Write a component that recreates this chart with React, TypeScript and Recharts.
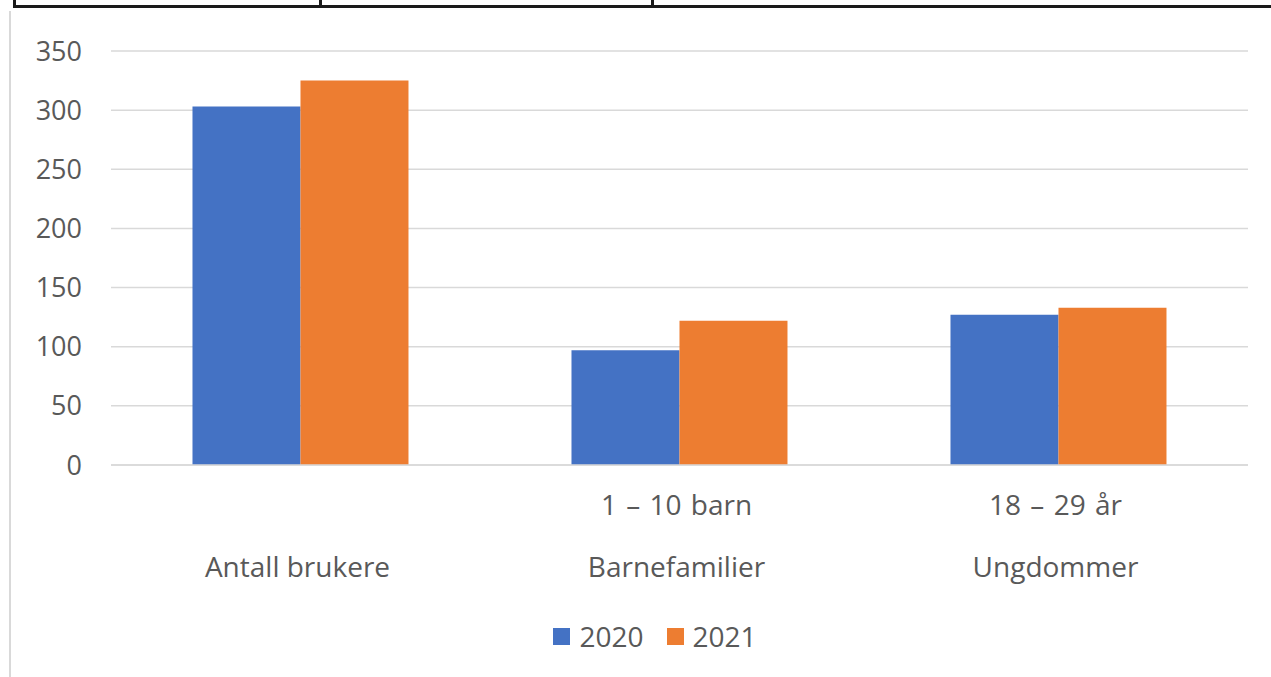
import React from "react";
import { BarChart, Bar, XAxis, YAxis, CartesianGrid, Legend } from "recharts";

const categories = ["Antall brukere", "Barnefamilier", "Ungdommer"];
const subLabels = ["", "1 – 10 barn", "18 – 29 år"];
const values2020 = [303, 97, 127];
const values2021 = [325, 122, 133];
const yTicks = [0, 50, 100, 150, 200, 250, 300, 350];
const seriesNames = ["2020", "2021"];
const seriesColors = ["#4472C4", "#ED7D31"];

const data = categories.map((c, i) => ({
  name: c,
  sub: subLabels[i],
  v2020: values2020[i],
  v2021: values2021[i],
}));

const FONT = "'Open Sans', 'Noto Sans', sans-serif";
const TEXT = "#595959";

const XTick = (props: any) => {
  const { x, y, payload, index } = props;
  const sub = subLabels[index] ?? "";
  return (
    <g>
      {sub ? (
        <text x={x - 3} y={y + 42} textAnchor="middle" fill={TEXT} fontSize={28} fontFamily={FONT} style={{ wordSpacing: 2 }}>
          {sub}
        </text>
      ) : null}
      <text x={x - 3} y={y + 104} textAnchor="middle" fill={TEXT} fontSize={28} fontFamily={FONT}>
        {payload.value}
      </text>
    </g>
  );
};

const LegendContent = () => (
  <div
    style={{
      height: 40,
      display: "flex",
      justifyContent: "center",
      alignItems: "center",
      paddingLeft: 62,
      fontFamily: FONT,
      fontSize: 28,
      color: TEXT,
    }}
  >
    {seriesNames.map((n, i) => (
      <div key={n} style={{ display: "flex", alignItems: "center", marginRight: i === 0 ? 23 : 0 }}>
        <span style={{ width: 17, height: 17, background: seriesColors[i], display: "inline-block", marginRight: 9 }} />
        <span>{n}</span>
      </div>
    ))}
  </div>
);

export default function App() {
  return (
    <div style={{ position: "absolute", left: 0, top: 0, width: 1271, height: 677, background: "#fff", overflow: "hidden" }}>
      <div style={{ position: "absolute", left: 13, right: 0, top: 5, height: 3, background: "#1a1a1a" }} />
      <div style={{ position: "absolute", left: 13, top: 0, width: 3, height: 8, background: "#1a1a1a" }} />
      <div style={{ position: "absolute", left: 319, top: 0, width: 3, height: 8, background: "#1a1a1a" }} />
      <div style={{ position: "absolute", left: 651, top: 0, width: 3, height: 8, background: "#1a1a1a" }} />
      <div style={{ position: "absolute", left: 9, top: 11, width: 2, bottom: 0, background: "#d9d9d9" }} />
      <div style={{ position: "absolute", left: 0, top: 0 }}>
        <BarChart
          width={1271}
          height={677}
          data={data}
          margin={{ top: 51, right: 23, left: 0, bottom: 21 }}
          barGap={0}
          barCategoryGap="21.5%"
        >
          <CartesianGrid vertical={false} stroke="#d9d9d9" strokeWidth={1.5} />
          <YAxis
            width={111}
            domain={[0, 350]}
            ticks={yTicks}
            axisLine={false}
            tickLine={false}
            tickMargin={23}
            tick={{ fill: TEXT, fontSize: 27, fontFamily: FONT }}
          />
          <XAxis
            dataKey="name"
            height={151}
            axisLine={{ stroke: "#d9d9d9", strokeWidth: 1.5 }}
            tickLine={false}
            tick={<XTick />}
            interval={0}
          />
          <Legend
            verticalAlign="bottom"
            wrapperStyle={{ height: 40 }}
            content={<LegendContent />}
          />
          <Bar dataKey="v2020" name="2020" fill={seriesColors[0]} isAnimationActive={false} />
          <Bar dataKey="v2021" name="2021" fill={seriesColors[1]} isAnimationActive={false} />
        </BarChart>
      </div>
    </div>
  );
}
